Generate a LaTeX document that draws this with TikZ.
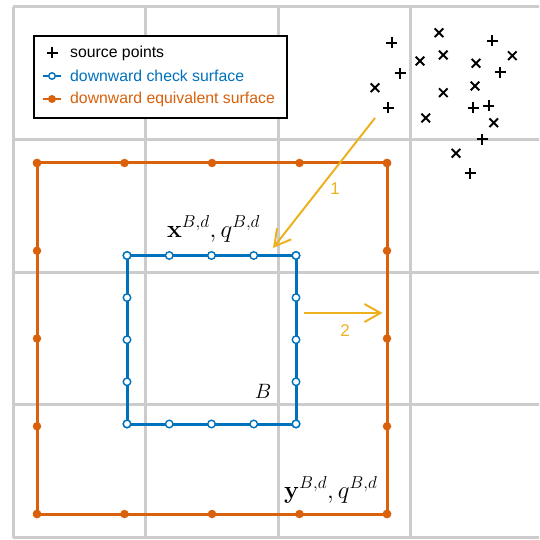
\documentclass[tikz,border=0pt]{standalone}
\usepackage[no-math]{fontspec}
\setmainfont{Liberation Sans}
\usetikzlibrary{arrows.meta}
\definecolor{mblue}{rgb}{0,0.447,0.741}
\definecolor{morange}{RGB}{217,97,12}
\definecolor{myellow}{rgb}{0.929,0.694,0.125}
\definecolor{gridgray}{RGB}{204,204,204}
\tikzset{
  gridline/.style={draw=gridgray,line width=3pt},
  bluesurf/.style={draw=mblue,line width=3pt},
  orangesurf/.style={draw=morange,line width=3pt},
  bluedot/.style={circle,draw=mblue,fill=white,line width=1.4pt,minimum size=7.5pt,inner sep=0pt},
  orangedot/.style={circle,fill=morange,minimum size=8.5pt,inner sep=0pt},
  srcmark/.style={draw=black,line width=1.9pt},
  legtext/.style={anchor=west,font=\fontsize{15.8}{18}\selectfont,inner sep=0pt},
  steparrow/.style={draw=myellow,line width=2pt,-{Straight Barb[length=16pt,width=18pt]}},
  steplabel/.style={text=myellow,font=\fontsize{17}{19}\selectfont,inner sep=0pt},
  mathlabel/.style={font=\fontsize{25}{28}\selectfont,inner sep=0pt},
  pics/plusm/.style={code={\draw[srcmark] (-5.5,0) -- (5.5,0) (0,-5.5) -- (0,5.5);}},
  pics/crossm/.style={code={\draw[srcmark] (-4.3,-4.3) -- (4.3,4.3) (-4.3,4.3) -- (4.3,-4.3);}},
}
\begin{document}
\begin{tikzpicture}[x=1pt,y=-1pt]
\useasboundingbox (0,0) rectangle (539,540);
% grid
\begin{scope}
\clip (0,0) rectangle (539,540);
\foreach \gx in {13,145.6,278.2,410.8}
  \draw[gridline] (\gx,7) -- (\gx,537.5);
\foreach \gy in {7,139.6,272.2,404.8,537.5}
  \draw[gridline] (13,\gy) -- (545,\gy);
\end{scope}
% legend
\node[draw=black,line width=1.8pt,fill=white,minimum width=253pt,minimum height=82pt,anchor=north west,inner sep=0pt] (legend) at (33,35) {};
\pic at (52,53) {plusm};
\node[legtext] (l1) at (70,53) {source points};
\draw[bluesurf,line width=2.2pt] (43,76) -- (61,76);
\node[bluedot,minimum size=6.5pt] (lb) at (52,76) {};
\node[legtext,text=mblue] (l2) at (70,76) {downward check surface};
\draw[orangesurf,line width=2.2pt] (43,99) -- (61,99);
\node[orangedot,minimum size=8pt] (lo) at (52,99) {};
\node[legtext,text=morange] (l3) at (70,99) {downward equivalent surface};
% orange equivalent surface
\coordinate (o1) at (37,163);
\coordinate (o2) at (387,163);
\coordinate (o3) at (387,514);
\coordinate (o4) at (37,514);
\draw[orangesurf] (o1) -- (o2) -- (o3) -- (o4) -- cycle;
\foreach \i in {0,...,4}{
  \node[orangedot] at ({37+87.5*\i},163) {};
  \node[orangedot] at ({37+87.5*\i},514) {};
  \node[orangedot] at (37,{163+87.75*\i}) {};
  \node[orangedot] at (387,{163+87.75*\i}) {};
}
% blue check surface
\coordinate (b1) at (127,255.5);
\coordinate (b2) at (296,255.5);
\coordinate (b3) at (296,424);
\coordinate (b4) at (127,424);
\draw[bluesurf] (b1) -- (b2) -- (b3) -- (b4) -- cycle;
\foreach \i in {0,...,4}{
  \node[bluedot] at ({127+42.25*\i},255.5) {};
  \node[bluedot] at ({127+42.25*\i},424) {};
  \node[bluedot] at (127,{255.5+42.1*\i}) {};
  \node[bluedot] at (296,{255.5+42.1*\i}) {};
}
% source points
\foreach \px/\py in {391.7/42.7, 492.3/41, 400/73.3, 500.3/72.3, 388.3/107.7, 473.3/107.7, 488.7/106, 482.3/139.3, 470/173.3}
  \pic at (\px,\py) {plusm};
\foreach \px/\py in {439/32.7, 420/61, 443.3/55, 476/63.3, 512.3/55.7, 375/87.7, 475/86, 443.3/92.7, 425.7/118, 493.7/122.7, 456/153.3}
  \pic at (\px,\py) {crossm};
% labels
\node[mathlabel,anchor=base west] (xlab) at (167,237) {$\mathbf{x}^{B,d}, q^{B,d}$};
\node[mathlabel,font=\fontsize{21.5}{24}\selectfont,anchor=base] (blab) at (263,398) {$B$};
\node[mathlabel,anchor=base west] (ylab) at (284,498) {$\mathbf{y}^{B,d}, q^{B,d}$};
% step arrows
\coordinate (a1s) at (375,118);
\coordinate (a1e) at (273,248);
\draw[steparrow] (a1s) -- (a1e);
\node[steplabel] (n1) at (335,189) {1};
\coordinate (a2s) at (304,313);
\coordinate (a2e) at (382.5,313);
\draw[steparrow] (a2s) -- (a2e);
\node[steplabel] (n2) at (345,331) {2};
\end{tikzpicture}
\end{document}
